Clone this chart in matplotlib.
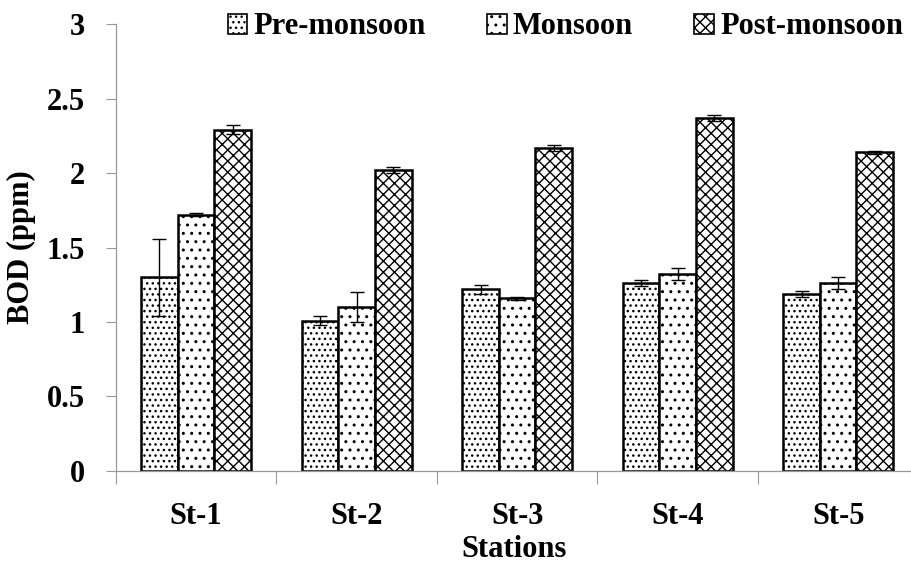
import matplotlib
matplotlib.use("Agg")
import matplotlib.pyplot as plt
import numpy as np

stations = ["St-1", "St-2", "St-3", "St-4", "St-5"]
series_names = ["Pre-monsoon", "Monsoon", "Post-monsoon"]
pre = [1.30, 1.01, 1.22, 1.26, 1.19]
pre_err = [0.26, 0.03, 0.03, 0.02, 0.02]
mon = [1.72, 1.10, 1.16, 1.32, 1.26]
mon_err = [0.01, 0.10, 0.01, 0.04, 0.04]
post = [2.29, 2.02, 2.17, 2.37, 2.14]
post_err = [0.03, 0.02, 0.02, 0.02, 0.01]
y_ticks = [0, 0.5, 1, 1.5, 2, 2.5, 3]
y_tick_labels = ["0", "0.5", "1", "1.5", "2", "2.5", "3"]

plt.rcParams['font.family'] = ['Liberation Serif', 'DejaVu Serif']
plt.rcParams['font.weight'] = 'bold'
plt.rcParams['hatch.linewidth'] = 1.0

FS = 22

fig = plt.figure(figsize=(9.12, 5.62), dpi=100)
ax = fig.add_axes([0.127, 0.162, 0.873, 0.795])

x = np.arange(len(stations))
w = 0.228
hatches = ["...", "..", "xxx"]
vals = [pre, mon, post]
errs = [pre_err, mon_err, post_err]
for i, (v, e, h, name) in enumerate(zip(vals, errs, hatches, series_names)):
    ax.bar(x + (i - 1) * w, v, w, color="white", edgecolor="black",
           linewidth=1.8, hatch=h, label=name, zorder=2,
           yerr=e, error_kw=dict(ecolor="black", elinewidth=1.0, capsize=5, capthick=1.0, zorder=3))

ax.set_ylim(0, 3)
ax.set_xlim(-0.5, 4.46)
ax.set_yticks(y_ticks)
ax.set_yticklabels(y_tick_labels)
ax.set_xticks(x)
ax.set_xticklabels(stations)
ax.set_xticks(np.arange(-0.5, 4.5, 1.0), minor=True)
ax.tick_params(axis='x', which='major', length=0, pad=22, labelsize=FS)
ax.tick_params(axis='x', which='minor', length=9, width=0.8, color='#999999', direction='out')
ax.tick_params(axis='y', length=7, width=0.8, color='#999999', pad=15, labelsize=FS)
for s in ['top', 'right']:
    ax.spines[s].set_visible(False)
for s in ['left', 'bottom']:
    ax.spines[s].set_color('#999999')
    ax.spines[s].set_linewidth(0.9)

ax.set_ylabel("BOD (ppm)", fontsize=FS, fontweight='bold', labelpad=8)
ax.set_xlabel("Stations", fontsize=FS, fontweight='bold', labelpad=3)

leg = fig.legend(loc='center', bbox_to_anchor=(0.62, 0.952), ncol=3, frameon=False,
                 fontsize=FS, handlelength=0.65, handleheight=0.65, handletextpad=0.2,
                 columnspacing=2.0)
for p in leg.get_patches():
    p.set_linewidth(1.2)

fig.savefig("out.png", dpi=100)
